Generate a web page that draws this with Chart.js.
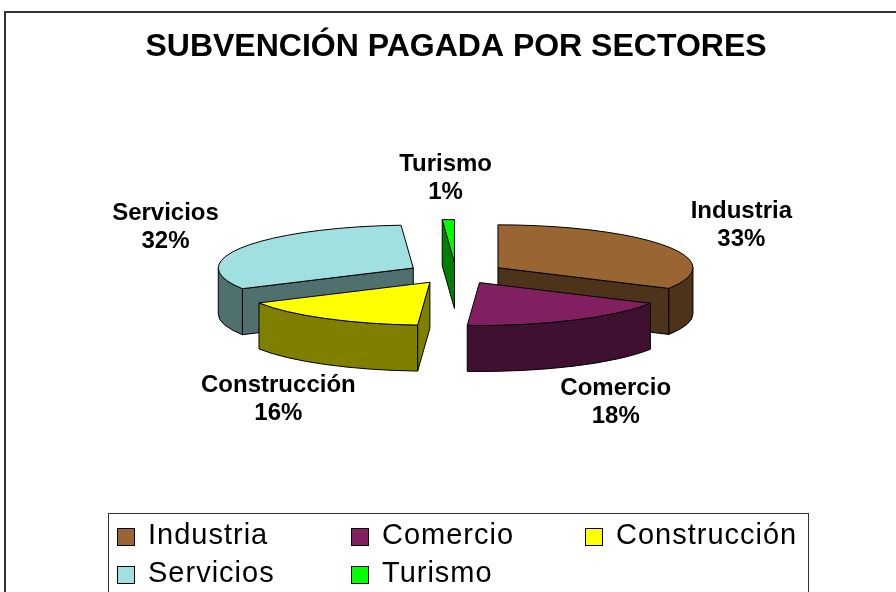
<!DOCTYPE html>
<html>
<head>
<meta charset="utf-8">
<script src="https://cdn.jsdelivr.net/npm/chart.js@4.4.1/dist/chart.umd.min.js"></script>
<style>
  html, body { margin: 0; padding: 0; background: #fff; overflow: hidden; }
</style>
</head>
<body>
<canvas id="subvencion" width="896" height="592"></canvas>
<script>
// datos del grafico
const sectores = ["Industria", "Comercio", "Construcción", "Servicios", "Turismo"];
const porcentajes = [33, 18, 16, 32, 1];
const coloresCara = ["#996633", "#802060", "#ffff00", "#a0e0e0", "#00ff00"];
const coloresLado = ["#4d3319", "#401030", "#808000", "#507070", "#008000"];
const titulo = "SUBVENCIÓN PAGADA POR SECTORES";

const FONT = '"Liberation Sans", Arial, sans-serif';
const K = 0.22;        // aplastado vertical (vista 3D)
const PROF = 46;       // profundidad de la tarta
const EXPL = 0.25;     // separacion de las porciones

// marco del grafico
const marco = {
    id: "marco",
    beforeDraw(chart) {
        const ctx = chart.ctx;
        ctx.save();
        ctx.fillStyle = "#fff";
        ctx.fillRect(0, 0, chart.width, chart.height);
        ctx.strokeStyle = "#333";
        ctx.lineWidth = 2;
        ctx.strokeRect(5, 12, chart.width + 20, chart.height + 20);
        ctx.restore();
    }
};

// tarta 3D separada
const tarta3d = {
    id: "tarta3d",
    beforeDatasetsDraw(chart) {
        const ctx = chart.ctx;
        const arcs = chart.getDatasetMeta(0).data;
        const total = porcentajes.reduce((a, b) => a + b, 0);

        const trozos = arcs.map((arc, i) => {
            const { x, y, startAngle, endAngle, outerRadius } = arc.getProps(["x", "y", "startAngle", "endAngle", "outerRadius"], true);
            const mid = (startAngle + endAngle) / 2;
            return {
                i, s: startAngle, e: endAngle, r: outerRadius, mid, cx: x, cy: y,
                ox: x + EXPL * outerRadius * Math.cos(mid),
                oy: y + EXPL * outerRadius * K * Math.sin(mid)
            };
        });

        ctx.save();
        ctx.lineWidth = 1;
        ctx.strokeStyle = "#000";
        ctx.lineJoin = "round";

        // de atras hacia delante
        [...trozos].sort((a, b) => Math.sin(a.mid) - Math.sin(b.mid)).forEach(t => {
            const { ox, oy, r, s, e } = t;
            const ry = r * K;
            ctx.fillStyle = coloresLado[t.i];

            const cara = a => {
                const px = ox + r * Math.cos(a), py = oy + ry * Math.sin(a);
                ctx.beginPath();
                ctx.moveTo(ox, oy);
                ctx.lineTo(px, py);
                ctx.lineTo(px, py + PROF);
                ctx.lineTo(ox, oy + PROF);
                ctx.closePath();
                ctx.fill();
                ctx.stroke();
            };
            if (Math.cos(s) < 0) cara(s);
            if (Math.cos(e) > 0) cara(e);

            // pared exterior visible (0..PI)
            const a1 = Math.max(s, 0), a2 = Math.min(e, Math.PI);
            if (a2 > a1) {
                ctx.beginPath();
                ctx.ellipse(ox, oy, r, ry, 0, a1, a2);
                ctx.lineTo(ox + r * Math.cos(a2), oy + ry * Math.sin(a2) + PROF);
                ctx.ellipse(ox, oy + PROF, r, ry, 0, a2, a1, true);
                ctx.closePath();
                ctx.fill();
                ctx.stroke();
            }

            // cara superior
            ctx.fillStyle = coloresCara[t.i];
            ctx.beginPath();
            ctx.moveTo(ox, oy);
            ctx.ellipse(ox, oy, r, ry, 0, s, e);
            ctx.closePath();
            ctx.fill();
            ctx.stroke();
        });

        // etiquetas
        ctx.fillStyle = "#000";
        ctx.font = "bold 24px " + FONT;
        ctx.textAlign = "center";
        ctx.textBaseline = "middle";
        trozos.forEach(t => {
            const lx = t.cx + 1.7 * t.r * Math.cos(t.mid);
            const sn = Math.sin(t.mid);
            const ly = t.cy + 2.2 * t.r * K * sn + (sn > 0 ? PROF : 0);
            const pct = Math.round(porcentajes[t.i] / total * 100) + "%";
            ctx.fillText(sectores[t.i], lx, ly - 14);
            ctx.fillText(pct, lx, ly + 14);
        });
        ctx.restore();
        return false;
    }
};

// leyenda en recuadro, 3 columnas
const leyenda = {
    id: "leyenda",
    afterDraw(chart) {
        const ctx = chart.ctx;
        ctx.save();
        ctx.strokeStyle = "#333";
        ctx.lineWidth = 1;
        ctx.strokeRect(108.5, 513.5, 700, 120);
        ctx.font = "29px " + FONT;
        ctx.letterSpacing = "1px";
        ctx.textAlign = "left";
        ctx.textBaseline = "alphabetic";
        sectores.forEach((nombre, i) => {
            const x = 117 + (i % 3) * 234;
            const y = 528 + Math.floor(i / 3) * 38;
            ctx.fillStyle = coloresCara[i];
            ctx.fillRect(x + 0.5, y + 0.5, 17, 17);
            ctx.strokeStyle = "#000";
            ctx.strokeRect(x + 0.5, y + 0.5, 17, 17);
            ctx.fillStyle = "#000";
            ctx.fillText(nombre, x + 31, y + 16);
        });
        ctx.restore();
    }
};

new Chart(document.getElementById("subvencion"), {
    type: "pie",
    data: {
        labels: sectores,
        datasets: [{
            data: porcentajes,
            backgroundColor: coloresCara,
            borderColor: "#000",
            borderWidth: 1
        }]
    },
    options: {
        responsive: false,
        animation: false,
        radius: 195,
        layout: { padding: { left: 16, right: 0, top: 0, bottom: 122 } },
        plugins: {
            legend: { display: false },
            tooltip: { enabled: false },
            title: {
                display: true,
                text: titulo,
                color: "#000",
                font: { family: FONT, size: 32, weight: "bold" },
                padding: { top: 28, bottom: 10 }
            }
        }
    },
    plugins: [marco, tarta3d, leyenda]
});
</script>
</body>
</html>
